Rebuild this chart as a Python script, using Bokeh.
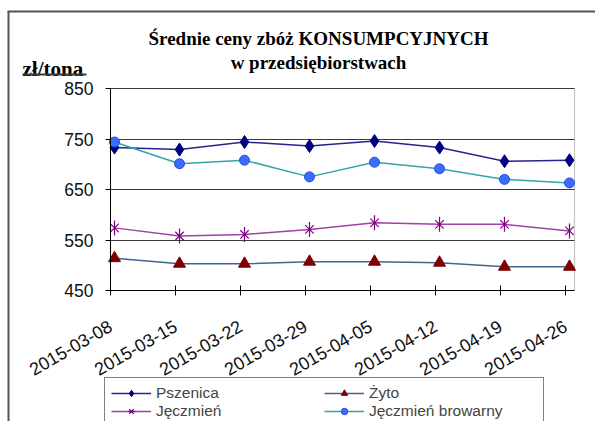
import math
from bokeh.plotting import figure
from bokeh.models import (FixedTicker, Legend, LegendItem, Label, Arrow, Range1d,
                          BoxAnnotation, Grid)
from bokeh.embed import file_html
from bokeh.resources import INLINE

# ---- data ----
dates = ["2015-03-08", "2015-03-15", "2015-03-22", "2015-03-29",
         "2015-04-05", "2015-04-12", "2015-04-19", "2015-04-26"]
pszenica = [733, 729, 744, 736, 746, 733, 706, 708]
zyto = [514, 503, 503, 507, 507, 505, 497, 497]
jeczmien = [574, 558, 561, 571, 584, 581, 581, 568]
jeczmien_browarny = [744, 701, 708, 675, 704, 691, 670, 663]
y_ticks = [450, 550, 650, 750, 850]
series_names = ["Pszenica", "Żyto", "Jęczmień", "Jęczmień browarny"]
title_lines = ["Średnie ceny zbóż KONSUMPCYJNYCH", "w przedsiębiorstwach"]
unit_label = "zł/tona"

xs = list(range(len(dates)))

W, H = 595, 421
# pixel geometry of the plot area (canvas pixels)
X0_PX, DX_PX = 114, 65            # first category and category step
Y_TOP_PX, Y_BOT_PX = 88, 290      # 850 and 450
ymin, ymax = y_ticks[0], y_ticks[-1]
ppu = (Y_BOT_PX - Y_TOP_PX) / (ymax - ymin)
x_start = -X0_PX / DX_PX
x_end = (W - X0_PX) / DX_PX
y_end = ymax + Y_TOP_PX / ppu
y_start = ymin - (H - Y_BOT_PX) / ppu
area_left = (110 - X0_PX) / DX_PX
area_right = (574 - X0_PX) / DX_PX

p = figure(width=W, height=H, output_backend="svg", toolbar_location=None,
           title_location=None,
           x_range=Range1d(x_start, x_end), y_range=Range1d(y_start, y_end),
           min_border=0, min_border_left=0, min_border_right=0,
           min_border_top=0, min_border_bottom=0)
p.background_fill_color = "white"
p.border_fill_color = "white"
p.outline_line_color = None

SANS = "Liberation Sans"
SERIF = "Liberation Serif"

# y axis
p.yaxis.fixed_location = area_left
p.yaxis.bounds = (ymin, ymax)
p.yaxis.ticker = FixedTicker(ticks=y_ticks)
p.yaxis.minor_tick_line_color = None
p.yaxis.major_tick_out = 5
p.yaxis.major_tick_in = 0
p.yaxis.major_label_standoff = 12
p.yaxis.major_label_text_font = SANS
p.yaxis.major_label_text_font_size = "17.5px"
p.yaxis.major_label_text_color = "#111111"
p.yaxis.axis_line_color = "black"

# x axis: category ticks sit slightly left of the points, as in the original
tick_pos = [i + area_left for i in xs]
p.xaxis.fixed_location = ymin
p.xaxis.bounds = (area_left, area_right)
p.xaxis.ticker = FixedTicker(ticks=tick_pos)
p.xaxis.major_label_overrides = {t: d for t, d in zip(tick_pos, dates)}
p.xaxis.minor_tick_line_color = None
p.xaxis.major_tick_out = 5
p.xaxis.major_tick_in = 5
p.xaxis.major_label_orientation = math.radians(30)
p.xaxis.major_label_standoff = 29
p.xaxis.major_label_text_font = SANS
p.xaxis.major_label_text_font_size = "18px"
p.xaxis.major_label_text_color = "#111111"
p.xaxis.axis_line_color = "black"

# grid / plot-area frame
p.xgrid.grid_line_color = None
GRID = "#3a3a3a"
if "cross_bounds" in Grid.properties():
    p.ygrid.ticker = FixedTicker(ticks=y_ticks[1:])
    p.ygrid.cross_bounds = (area_left, area_right)
    p.ygrid.grid_line_color = GRID
    p.ygrid.grid_line_width = 1.2
else:
    p.ygrid.grid_line_color = None
    p.add_layout(BoxAnnotation(left=area_left, right=area_right, bottom=y_ticks[1],
                               top=y_ticks[3], fill_alpha=0, line_color=GRID,
                               line_width=1.2, level="underlay"))
    p.add_layout(BoxAnnotation(left=area_left, right=area_right, bottom=y_ticks[2],
                               top=y_ticks[4], fill_alpha=0, line_color=GRID,
                               line_width=1.2, level="underlay"))
p.add_layout(BoxAnnotation(left=area_left, right=area_right, bottom=ymin, top=ymax,
                           fill_alpha=0, line_color=GRID, line_width=1.2,
                           level="underlay"))

# series
r1l = p.line(xs, pszenica, line_color="#25258f", line_width=1.5)
r1m = p.scatter(xs, pszenica, marker="diamond", size=13, fill_color="#000080",
                line_color="#000080")

r2l = p.line(xs, zyto, line_color="#3f6690", line_width=1.5)
r2m = p.scatter(xs, zyto, marker="triangle", size=12, fill_color="#800000",
                line_color="#800000")

r3l = p.line(xs, jeczmien, line_color="#a040a8", line_width=1.5)
r3m = p.scatter(xs, jeczmien, marker="x", size=12, line_color="#800080", line_width=1.2)
r3m2 = p.scatter(xs, jeczmien, marker="dash", angle=math.pi / 2, size=15,
                 line_color="#800080", line_width=1.2)

r4l = p.line(xs, jeczmien_browarny, line_color="#33a5a5", line_width=1.5)
r4m = p.scatter(xs, jeczmien_browarny, marker="circle", size=10, fill_color="#3a6cff",
                line_color="#1f4fd8")

# legend (column-major fill: col1 = Pszenica, Jęczmień; col2 = Żyto, Jęczmień browarny)
legend = Legend(items=[
    LegendItem(label=series_names[0], renderers=[r1l, r1m]),
    LegendItem(label=series_names[2], renderers=[r3l, r3m, r3m2]),
    LegendItem(label=series_names[1], renderers=[r2l, r2m]),
    LegendItem(label=series_names[3], renderers=[r4l, r4m]),
], ncols=2, location=(104, -6), padding=6, margin=0, spacing=0,
    glyph_width=40, glyph_height=16, label_height=16, label_width=168,
    label_standoff=5, label_text_font=SANS, label_text_font_size="15.5px",
    border_line_color="black", border_line_width=1, background_fill_alpha=1)
p.add_layout(legend, "center")

# titles (screen units from the bottom-left of the canvas-wide frame)
p.add_layout(Label(x=318, y=H - 38, x_units="screen", y_units="screen",
                   text=title_lines[0], text_font=SERIF, text_font_style="bold",
                   text_font_size="19px", text_align="center",
                   text_baseline="alphabetic", text_color="black"))
p.add_layout(Label(x=318, y=H - 62, x_units="screen", y_units="screen",
                   text=title_lines[1], text_font=SERIF, text_font_style="bold",
                   text_font_size="19px", text_align="center",
                   text_baseline="alphabetic", text_color="black"))
p.add_layout(Label(x=22, y=H - 68, x_units="screen", y_units="screen",
                   text=unit_label, text_font=SERIF, text_font_style="bold",
                   text_font_size="21px", text_align="left",
                   text_baseline="alphabetic", text_color="black"))
p.add_layout(Arrow(end=None, x_start=22, y_start=H - 74, x_end=86, y_end=H - 74,
                   start_units="screen", end_units="screen",
                   line_color="#3a3a3a", line_width=2))
# outer chart-area frame (left and top edges)
p.add_layout(Arrow(end=None, x_start=8, y_start=H - 11, x_end=8, y_end=-5,
                   start_units="screen", end_units="screen",
                   line_color="#555555", line_width=2))
p.add_layout(Arrow(end=None, x_start=7, y_start=H - 11, x_end=W + 5, y_end=H - 11,
                   start_units="screen", end_units="screen",
                   line_color="#555555", line_width=2))

open("out.html", "w").write(file_html(p, INLINE))
